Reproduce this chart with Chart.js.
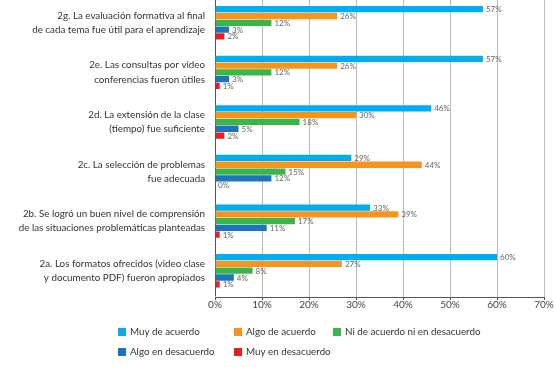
<!DOCTYPE html>
<html><head><meta charset="utf-8">
<script src="https://cdn.jsdelivr.net/npm/chart.js@4/dist/chart.umd.min.js"></script>
<style>html,body{margin:0;padding:0;background:#fff}#wrap{width:556px;height:367px}</style>
</head><body><div id="wrap"><canvas id="c" width="556" height="367"></canvas></div>
<script>
const categories = [
  ["2g. La evaluación formativa al final","de cada tema fue útil para el aprendizaje"],
  ["2e. Las consultas por video","conferencias fueron útiles"],
  ["2d. La extensión de la clase","(tiempo) fue suficiente"],
  ["2c. La selección de problemas","fue adecuada"],
  ["2b. Se logró un buen nivel de comprensión","de las situaciones problemáticas planteadas"],
  ["2a. Los formatos ofrecidos (video clase","y documento PDF) fueron apropiados"]
];
const seriesNames = ["Muy de acuerdo","Algo de acuerdo","Ni de acuerdo ni en desacuerdo","Algo en desacuerdo","Muy en desacuerdo"];
const muyDeAcuerdo   = [57, 57, 46, 29, 33, 60];
const algoDeAcuerdo  = [26, 26, 30, 44, 39, 27];
const niNi           = [12, 12, 18, 15, 17, 8];
const algoDesacuerdo = [3, 3, 5, 12, 11, 4];
const muyDesacuerdo  = [2, 1, 2, 0, 1, 1];
const xTicks = [0,10,20,30,40,50,60,70];
const colors = ["#00AEEF","#F7941D","#39B54A","#1C75BC","#ED1C24"];
const FONT = "Lato";

const seriesValues = [muyDeAcuerdo, algoDeAcuerdo, niNi, algoDesacuerdo, muyDesacuerdo];

const shiftY = {
  id: 'shiftY',
  afterLayout(chart) {
    const y = chart.scales.y;
    y.top = chart.chartArea.top - 2;
    y.bottom = chart.chartArea.bottom - 1.5;
    y.configure();
  }
};

const valueLabels = {
  id: 'valueLabels',
  afterDatasetsDraw(chart) {
    const ctx = chart.ctx;
    ctx.save();
    ctx.font = "8px " + FONT;
    ctx.fillStyle = "#666";
    ctx.textBaseline = "middle";
    ctx.textAlign = "left";
    chart.data.datasets.forEach((ds, i) => {
      const meta = chart.getDatasetMeta(i);
      meta.data.forEach((bar, j) => {
        ctx.fillText(ds.data[j] + "%", bar.x + 3, bar.y + 0.5);
      });
    });
    ctx.restore();
  }
};

const customLegend = {
  id: 'customLegend',
  afterDraw(chart) {
    const ctx = chart.ctx;
    const pos = [[118,332],[234,332],[333,332],[118,352],[234,352]];
    ctx.save();
    ctx.font = "9.8px " + FONT;
    ctx.textBaseline = "middle";
    ctx.textAlign = "left";
    chart.data.datasets.forEach((ds, i) => {
      const [x, y] = pos[i];
      ctx.fillStyle = ds.backgroundColor;
      ctx.fillRect(x, y - 4, 8, 8);
      ctx.fillStyle = "#333";
      ctx.fillText(ds.label, x + 12, y);
    });
    ctx.restore();
  }
};

new Chart(document.getElementById('c'), {
  type: 'bar',
  data: {
    labels: categories,
    datasets: seriesNames.map((n, i) => ({
      label: n,
      data: seriesValues[i],
      backgroundColor: colors[i],
      categoryPercentage: 0.685,
      barPercentage: 0.93
    }))
  },
  options: {
    indexAxis: 'y',
    responsive: false,
    animation: false,
    layout: { padding: { top: 0, right: 12, left: 0, bottom: 0 } },
    plugins: { legend: { display: false }, tooltip: { enabled: false } },
    scales: {
      x: {
        min: 0, max: 70,
        afterBuildTicks(scale) { scale.ticks = xTicks.map(v => ({ value: v })); },
        afterFit(scale) { scale.height = 70; scale.paddingRight = 0; scale.paddingLeft = 0; },
        ticks: { callback: v => v + "%", color: "#444", font: { family: FONT, size: 10 }, padding: -1, maxRotation: 0 },
        grid: { color: "#bbb", lineWidth: 1, drawTicks: true, tickLength: 3, tickColor: "#555" },
        border: { display: true, color: "#555", width: 1 }
      },
      y: {
        afterFit(scale) { scale.width = 215; scale.paddingTop = 0; scale.paddingBottom = 0; },
        ticks: { color: "#333", font: { family: FONT, size: 9.8, lineHeight: 1.45 }, padding: 10 },
        grid: { display: false, drawTicks: false },
        border: { display: true, color: "#555", width: 1 }
      }
    }
  },
  plugins: [shiftY, valueLabels, customLegend]
});
</script></body></html>
